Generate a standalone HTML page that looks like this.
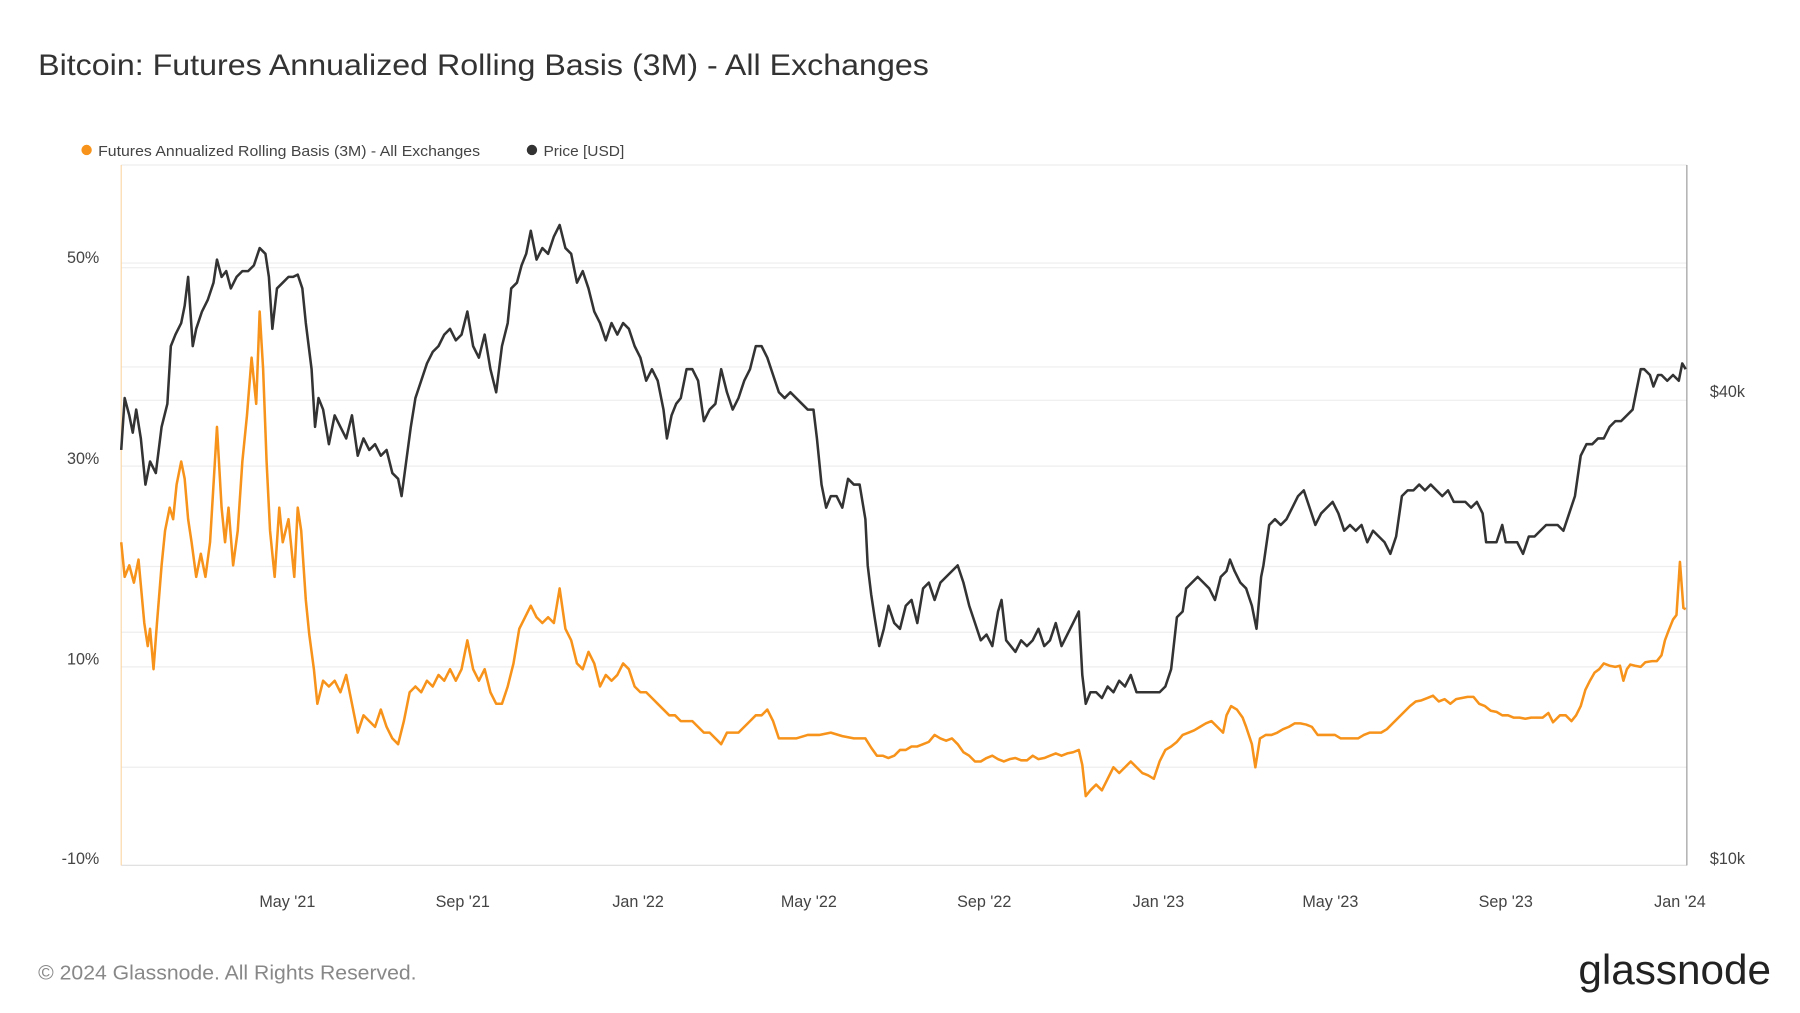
<!DOCTYPE html>
<html><head><meta charset="utf-8"><style>
html,body{margin:0;padding:0;background:#fff;}
svg{display:block;}
text{font-family:"Liberation Sans",sans-serif;}
</style></head><body>
<svg width="1800" height="1013" viewBox="0 0 1560 878" xmlns="http://www.w3.org/2000/svg">
<rect width="1560" height="878" fill="#fff"/>
<text x="33" y="65" font-size="26" fill="#333" textLength="772" lengthAdjust="spacingAndGlyphs">Bitcoin: Futures Annualized Rolling Basis (3M) - All Exchanges</text>
<circle cx="75" cy="130" r="4.5" fill="#f7931a"/>
<text x="85" y="135" font-size="13" fill="#444" textLength="331" lengthAdjust="spacingAndGlyphs">Futures Annualized Rolling Basis (3M) - All Exchanges</text>
<circle cx="461" cy="130" r="4.5" fill="#333"/>
<text x="471" y="135" font-size="13" fill="#444" textLength="70" lengthAdjust="spacingAndGlyphs">Price [USD]</text>
<g stroke="#eee" stroke-width="1">
<line x1="105" y1="143" x2="1462" y2="143"/>
<line x1="105" y1="228" x2="1462" y2="228"/>
<line x1="105" y1="232" x2="1462" y2="232"/>
<line x1="105" y1="318" x2="1462" y2="318"/>
<line x1="105" y1="347" x2="1462" y2="347"/>
<line x1="105" y1="404" x2="1462" y2="404"/>
<line x1="105" y1="491" x2="1462" y2="491"/>
<line x1="105" y1="548" x2="1462" y2="548"/>
<line x1="105" y1="578" x2="1462" y2="578"/>
<line x1="105" y1="665" x2="1462" y2="665"/>
</g>
<line x1="105" y1="750" x2="1462" y2="750" stroke="#ddd"/>
<line x1="105" y1="143" x2="105" y2="750" stroke="#fbd7a8"/>
<line x1="1462" y1="143" x2="1462" y2="750" stroke="#999"/>
<g font-size="14" fill="#444" text-anchor="end">
<text x="86" y="228">50%</text><text x="86" y="402">30%</text><text x="86" y="576">10%</text><text x="86" y="749">-10%</text>
</g>
<g font-size="14" fill="#444">
<text x="1482" y="344">$40k</text><text x="1482" y="749">$10k</text>
</g>
<g font-size="14" fill="#444" text-anchor="middle">
<text x="249" y="786">May '21</text><text x="401" y="786">Sep '21</text><text x="553" y="786">Jan '22</text><text x="701" y="786">May '22</text><text x="853" y="786">Sep '22</text><text x="1004" y="786">Jan '23</text><text x="1153" y="786">May '23</text><text x="1305" y="786">Sep '23</text><text x="1456" y="786">Jan '24</text>
</g>
<polyline fill="none" stroke="#333" stroke-width="2.2" stroke-linejoin="round" points="105,390 108,345 112,360 115,375 118,355 122,380 126,420 130,400 135,410 140,370 145,350 148,300 152,290 157,280 160,265 163,240 167,300 170,285 175,270 180,260 185,245 188,225 192,240 196,235 200,250 205,240 210,235 215,235 220,230 225,215 230,220 233,240 236,285 240,250 245,245 250,240 254,240 258,238 262,250 265,280 270,320 273,370 276,345 280,355 285,385 290,360 295,370 300,380 305,360 310,395 315,380 320,390 325,385 330,395 335,390 340,410 345,415 348,430 352,400 356,370 360,345 365,330 370,315 375,305 380,300 385,290 390,285 395,295 400,290 405,270 410,300 415,310 420,290 425,320 430,340 435,300 440,280 443,250 448,245 452,230 456,220 460,200 465,225 470,215 475,220 480,205 485,195 490,215 495,220 500,245 505,235 510,250 515,270 520,280 525,295 530,280 535,290 540,280 545,285 550,300 555,310 560,330 565,320 570,330 575,355 578,380 582,360 586,350 590,345 595,320 600,320 605,330 610,365 615,355 620,350 625,320 630,340 635,355 640,345 645,330 650,320 655,300 660,300 665,310 670,325 675,340 680,345 685,340 690,345 695,350 700,355 705,355 708,380 712,420 716,440 720,430 725,430 730,440 735,415 740,420 745,420 750,450 752,490 755,515 758,535 762,560 766,545 770,525 775,540 780,545 785,525 790,520 795,540 800,510 805,505 810,520 815,505 820,500 825,495 830,490 835,505 840,525 845,540 850,555 855,550 860,560 865,530 868,520 872,555 876,560 880,565 885,555 890,560 895,555 900,545 905,560 910,555 915,540 920,560 925,550 930,540 935,530 938,585 941,610 945,600 950,600 955,605 960,595 965,600 970,590 975,595 980,585 985,600 990,600 995,600 1000,600 1005,600 1010,595 1015,580 1020,535 1025,530 1028,510 1033,505 1038,500 1043,505 1048,510 1053,520 1058,500 1063,495 1066,485 1070,495 1075,505 1080,510 1085,525 1089,545 1093,500 1095,490 1100,455 1105,450 1110,455 1115,450 1120,440 1125,430 1130,425 1135,440 1140,455 1145,445 1150,440 1155,435 1160,445 1165,460 1170,455 1175,460 1180,455 1185,470 1190,460 1195,465 1200,470 1205,480 1210,465 1215,430 1220,425 1225,425 1230,420 1235,425 1240,420 1245,425 1250,430 1255,425 1260,435 1265,435 1270,435 1275,440 1280,435 1285,445 1288,470 1292,470 1297,470 1302,455 1305,470 1310,470 1315,470 1320,480 1325,465 1330,465 1335,460 1340,455 1345,455 1350,455 1355,460 1360,445 1365,430 1370,395 1375,385 1380,385 1385,380 1390,380 1395,370 1400,365 1405,365 1410,360 1415,355 1418,340 1422,320 1425,320 1430,325 1433,335 1437,325 1440,325 1445,330 1450,325 1455,330 1458,315 1461,320"/>
<polyline fill="none" stroke="#f7931a" stroke-width="2.2" stroke-linejoin="round" points="105,470 108,500 112,490 116,505 120,485 125,540 128,560 130,545 133,580 136,540 140,490 143,460 147,440 150,450 153,420 157,400 160,415 163,450 166,470 170,500 174,480 178,500 182,470 185,420 188,370 192,440 195,470 198,440 202,490 206,460 210,400 214,360 218,310 222,350 225,270 228,320 231,400 234,460 238,500 242,440 245,470 250,450 255,500 258,440 261,460 265,520 268,550 272,580 275,610 280,590 285,595 290,590 295,600 300,585 305,610 310,635 315,620 320,625 325,630 330,615 335,630 340,640 345,645 350,625 355,600 360,595 365,600 370,590 375,595 380,585 385,590 390,580 395,590 400,580 405,555 410,580 415,590 420,580 425,600 430,610 435,610 440,595 445,575 450,545 455,535 460,525 465,535 470,540 475,535 480,540 485,510 490,545 495,555 500,575 505,580 510,565 515,575 520,595 525,585 530,590 535,585 540,575 545,580 550,595 555,600 560,600 565,605 570,610 575,615 580,620 585,620 590,625 595,625 600,625 605,630 610,635 615,635 620,640 625,645 630,635 635,635 640,635 645,630 650,625 655,620 660,620 665,615 670,625 675,640 680,640 690,640 700,637 710,637 720,635 730,638 740,640 750,640 755,648 760,655 765,655 770,657 775,655 780,650 785,650 790,647 795,647 800,645 805,643 810,637 815,640 820,642 825,640 830,645 835,652 840,655 845,660 850,660 855,657 860,655 865,658 870,660 875,658 880,657 885,659 890,659 895,655 900,658 905,657 910,655 915,653 920,655 925,653 930,652 935,650 938,663 941,690 945,685 950,680 955,685 960,675 965,665 970,670 975,665 980,660 985,665 990,670 995,672 1000,675 1005,660 1010,650 1015,647 1020,643 1025,637 1030,635 1035,633 1040,630 1045,627 1050,625 1055,630 1060,635 1063,620 1067,612 1072,615 1077,622 1080,630 1085,645 1088,665 1092,640 1097,637 1102,637 1107,635 1112,632 1117,630 1122,627 1127,627 1132,628 1137,630 1142,637 1147,637 1152,637 1157,637 1162,640 1167,640 1172,640 1177,640 1182,637 1187,635 1192,635 1197,635 1202,632 1207,627 1212,622 1217,617 1222,612 1227,608 1232,607 1237,605 1242,603 1247,608 1252,606 1257,610 1262,606 1267,605 1272,604 1277,604 1282,610 1287,612 1292,616 1297,617 1302,620 1307,620 1312,622 1317,622 1322,623 1327,622 1332,622 1337,622 1342,618 1346,626 1352,620 1357,620 1362,625 1366,620 1370,612 1374,598 1378,590 1382,583 1386,580 1390,575 1395,577 1400,578 1404,577 1407,590 1410,580 1413,576 1417,577 1422,578 1426,574 1432,573 1436,573 1440,568 1443,555 1446,547 1450,537 1453,533 1456,487 1459,527 1461,528"/>
<text x="33" y="849" font-size="18" fill="#888" textLength="328" lengthAdjust="spacingAndGlyphs">© 2024 Glassnode. All Rights Reserved.</text>
<text x="1368" y="853" font-size="36" fill="#222" textLength="167" lengthAdjust="spacingAndGlyphs">glassnode</text>
</svg>
</body></html>
